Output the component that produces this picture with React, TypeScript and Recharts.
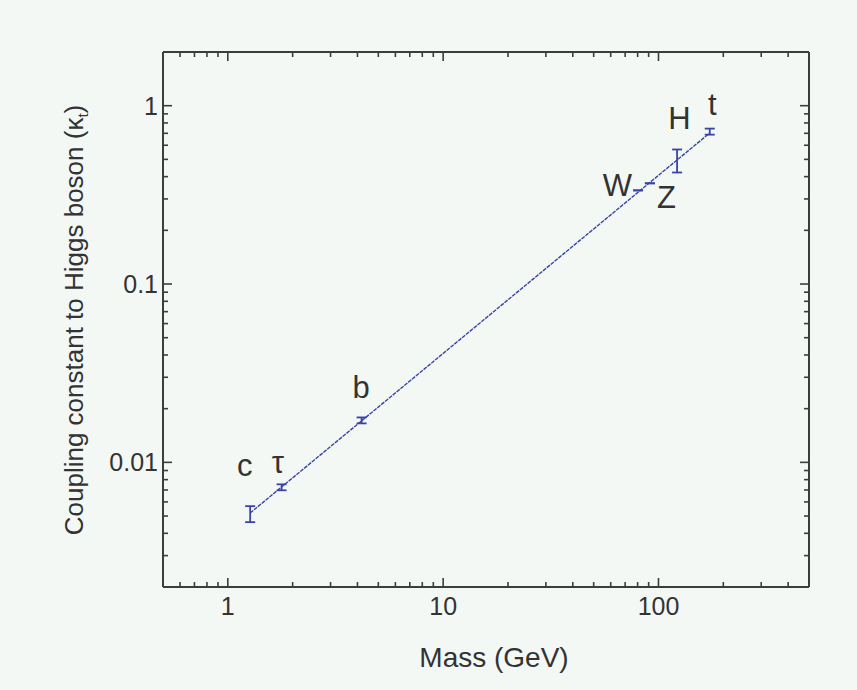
import React from 'react';
import { ComposedChart, XAxis, YAxis, Scatter, Line, ErrorBar, Customized } from 'recharts';

// ---- data ----
const particleNames = ['c', 'τ', 'b', 'W', 'Z', 'H', 't'];
const particleMass = [1.27, 1.777, 4.18, 80.4, 91.2, 122, 173];
const particleCoupling = [0.0051, 0.00725, 0.0172, 0.335, 0.367, 0.49, 0.716];
const couplingErrLow = [0.00048, 0.00028, 0.00066, 0, 0, 0.068, 0.028];
const couplingErrHigh = [0.00058, 0.00028, 0.00066, 0, 0, 0.078, 0.028];

const fitMass = [1.27, 173];
const fitCoupling = [0.0052, 0.703];

const labelMass = [1.2, 1.71, 4.16, 64.5, 109, 125, 178];
const labelCoupling = [0.0096, 0.01, 0.0262, 0.357, 0.306, 0.846, 1.01];

const xTicks = [0.6, 0.7, 0.8, 0.9, 1, 2, 3, 4, 5, 6, 7, 8, 9, 10, 20, 30, 40, 50, 60, 70, 80, 90, 100, 200, 300, 400];
const yTicks = [0.003, 0.004, 0.005, 0.006, 0.007, 0.008, 0.009, 0.01, 0.02, 0.03, 0.04, 0.05, 0.06, 0.07, 0.08, 0.09, 0.1, 0.2, 0.3, 0.4, 0.5, 0.6, 0.7, 0.8, 0.9, 1];
const xDomain = [0.5, 500];
const yDomain = [0.002, 2];

const xTitle = 'Mass (GeV)';
const yTitle = 'Coupling constant to Higgs boson (κ';
const yTitleSub = 't';

// ---- derived tables ----
const particles = particleNames.map((name, i) => ({
  name,
  mass: particleMass[i],
  coupling: particleCoupling[i],
  err: [couplingErrLow[i], couplingErrHigh[i]],
}));
const fitLine = fitMass.map((m, i) => ({ mass: m, coupling: fitCoupling[i] }));
const labels = particleNames.map((name, i) => ({ name, mass: labelMass[i], coupling: labelCoupling[i] }));

const FONT = '"Liberation Sans", Arial, Helvetica, sans-serif';
const AXIS = '#3d3d3d';
const TEXT = '#333333';
const BLUE = '#3944a6';
const BG = '#f4f8f5';

const isMajor = (v: number) => Math.abs(Math.log10(v) - Math.round(Math.log10(v))) < 1e-9;
const fmt = (v: number) => String(v);

const BottomTick = (p: any) => {
  const { x, y, payload } = p;
  const v = payload.value;
  const major = isMajor(v);
  return (
    <g>
      <line x1={x} y1={y} x2={x} y2={y - (major ? 9 : 5)} stroke={AXIS} strokeWidth={1.6} />
      {major && (
        <text x={x} y={y + 28} textAnchor="middle" fontSize={25} fill={TEXT} fontFamily={FONT}>
          {fmt(v)}
        </text>
      )}
    </g>
  );
};
const TopTick = (p: any) => {
  const { x, y, payload } = p;
  const major = isMajor(payload.value);
  return <line x1={x} y1={y} x2={x} y2={y + (major ? 9 : 5)} stroke={AXIS} strokeWidth={1.6} />;
};
const LeftTick = (p: any) => {
  const { x, y, payload } = p;
  const v = payload.value;
  const major = isMajor(v);
  return (
    <g>
      <line x1={x} y1={y} x2={x + (major ? 9 : 5)} y2={y} stroke={AXIS} strokeWidth={1.6} />
      {major && (
        <text x={x - 5} y={y + 9} textAnchor="end" fontSize={25} fill={TEXT} fontFamily={FONT}>
          {fmt(v)}
        </text>
      )}
    </g>
  );
};
const RightTick = (p: any) => {
  const { x, y, payload } = p;
  const major = isMajor(payload.value);
  return <line x1={x} y1={y} x2={x - (major ? 9 : 5)} y2={y} stroke={AXIS} strokeWidth={1.6} />;
};

const LabelShape = (p: any) => (
  <text
    x={p.cx}
    y={p.cy}
    textAnchor="middle"
    dominantBaseline="central"
    fontSize={31}
    fill={TEXT}
    fontFamily={FONT}
  >
    {p.payload.name}
  </text>
);

const Titles = () => (
  <g fontFamily={FONT} fill={TEXT}>
    <text x={494} y={667} textAnchor="middle" fontSize={28}>
      {xTitle}
    </text>
    <text x={83} y={320} textAnchor="middle" fontSize={26} transform="rotate(-90 83 320)">
      {yTitle}
      <tspan fontSize={15} dy={5}>{yTitleSub}</tspan>
      <tspan dy={-5}>)</tspan>
    </text>
  </g>
);

export default function App() {
  return (
    <div style={{ position: 'fixed', left: 0, top: 0, width: 857, height: 690, background: BG }}>
      <ComposedChart width={857} height={690} margin={{ top: 51, right: 47, bottom: 102, left: 162 }}>
        <XAxis
          xAxisId={0}
          type="number"
          dataKey="mass"
          scale="log"
          domain={xDomain}
          allowDataOverflow
          ticks={xTicks}
          interval={0}
          height={1}
          tickSize={0}
          tickMargin={0}
          tickLine={false}
          axisLine={{ stroke: AXIS, strokeWidth: 2 }}
          tick={<BottomTick />}
          orientation="bottom"
        />
        <XAxis
          xAxisId="top"
          type="number"
          dataKey="mass"
          scale="log"
          domain={xDomain}
          allowDataOverflow
          ticks={xTicks}
          interval={0}
          height={1}
          tickSize={0}
          tickMargin={0}
          tickLine={false}
          axisLine={{ stroke: AXIS, strokeWidth: 2 }}
          tick={<TopTick />}
          orientation="top"
        />
        <YAxis
          yAxisId={0}
          type="number"
          scale="log"
          domain={yDomain}
          allowDataOverflow
          ticks={yTicks}
          interval={0}
          width={1}
          tickSize={0}
          tickMargin={0}
          tickLine={false}
          axisLine={{ stroke: AXIS, strokeWidth: 2 }}
          tick={<LeftTick />}
          orientation="left"
        />
        <YAxis
          yAxisId="right"
          type="number"
          scale="log"
          domain={yDomain}
          allowDataOverflow
          ticks={yTicks}
          interval={0}
          width={1}
          tickSize={0}
          tickMargin={0}
          tickLine={false}
          axisLine={{ stroke: AXIS, strokeWidth: 2 }}
          tick={<RightTick />}
          orientation="right"
        />
        <Line
          data={fitLine}
          dataKey="coupling"
          stroke={BLUE}
          strokeWidth={1.4}
          strokeDasharray="4 1"
          dot={false}
          activeDot={false}
          isAnimationActive={false}
          type="linear"
        />
        <Scatter data={particles} dataKey="coupling" shape={() => <g />} isAnimationActive={false}>
          <ErrorBar dataKey="err" direction="y" width={5} stroke={BLUE} strokeWidth={1.8} isAnimationActive={false} />
        </Scatter>
        <Scatter data={labels} dataKey="coupling" shape={<LabelShape />} isAnimationActive={false} />
        <Customized component={<Titles />} />
      </ComposedChart>
    </div>
  );
}
